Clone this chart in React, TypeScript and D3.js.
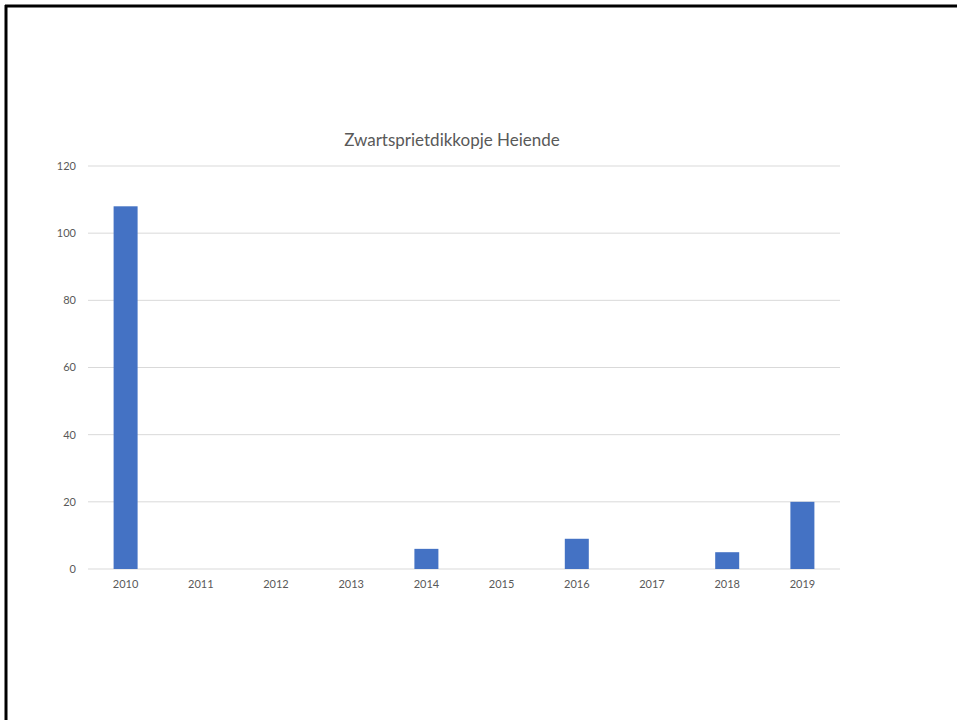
import React from "react";
import * as d3 from "d3";

const categories = ["2010", "2011", "2012", "2013", "2014", "2015", "2016", "2017", "2018", "2019"];
const values = [108, 0, 0, 0, 6, 0, 9, 0, 5, 20];
const yTicks = [0, 20, 40, 60, 80, 100, 120];
const title = "Zwartsprietdikkopje Heiende";

const W = 957;
const H = 720;
const plotLeft = 88;
const plotRight = 840;
const plotTop = 166;
const plotBottom = 569;
const FONT = "Lato, 'Liberation Sans', sans-serif";
const TEXT = "#595959";

export default function App() {
  const y = d3.scaleLinear().domain([0, 120]).range([plotBottom, plotTop]);
  const band = d3.scaleBand<string>().domain(categories).range([plotLeft, plotRight]);

  return (
    <svg width={W} height={H} style={{ position: "absolute", left: 0, top: 0, background: "#fff" }}>
      <rect x={0} y={0} width={W} height={H} fill="#fff" />
      <line x1={5} y1={6} x2={W} y2={6} stroke="#000" strokeWidth={3} />
      <line x1={6} y1={5} x2={6} y2={H} stroke="#000" strokeWidth={3} />
      <text x={452} y={146} textAnchor="middle" fontFamily={FONT} fontSize={17} fill={TEXT}>
        {title}
      </text>
      {yTicks.map((t) => (
        <g key={t}>
          <line x1={plotLeft} x2={plotRight} y1={y(t)} y2={y(t)} stroke="#d9d9d9" strokeWidth={1} />
          <text x={76} y={y(t)} dy="0.35em" textAnchor="end" fontFamily={FONT} fontSize={11} fill={TEXT}>
            {t}
          </text>
        </g>
      ))}
      {categories.map((c, i) => (
        <g key={c}>
          <rect
            x={(band(c) as number) + band.bandwidth() / 2 - 12}
            y={y(values[i])}
            width={24}
            height={plotBottom - y(values[i])}
            fill="#4472c4"
          />
          <text
            x={(band(c) as number) + band.bandwidth() / 2}
            y={588}
            textAnchor="middle"
            fontFamily={FONT}
            fontSize={11}
            fill={TEXT}
          >
            {c}
          </text>
        </g>
      ))}
    </svg>
  );
}
